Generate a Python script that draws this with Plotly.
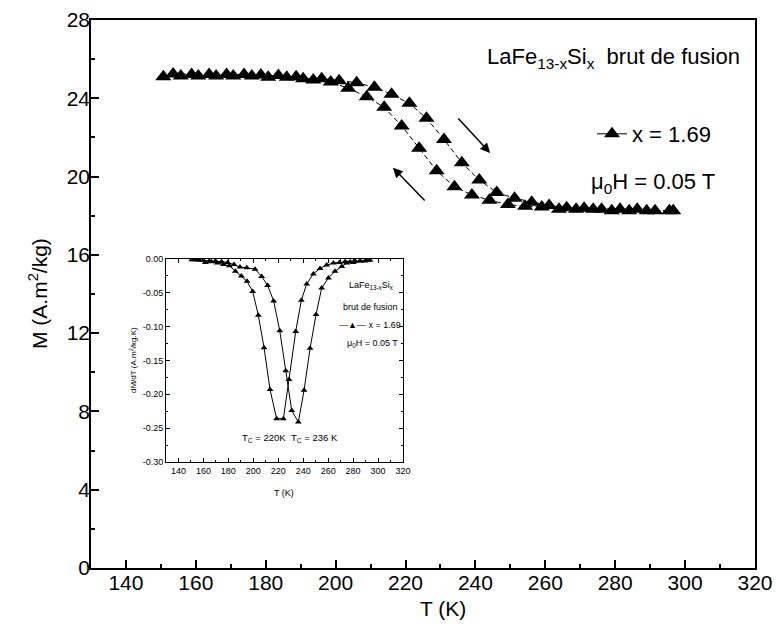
import plotly.graph_objects as go

# ---------------- main plot data (M vs T) ----------------
T_heat = [150.7, 155.7, 160.7, 165.8, 170.7, 176.0, 180.7, 186.0, 190.7, 196.0,
          201.0, 206.0, 211.1, 216.0, 221.1, 226.0, 231.0, 236.1, 241.1, 246.1,
          251.2, 256.1, 261.1, 266.1, 271.1, 276.1, 281.4, 286.3, 291.4, 296.6]
M_heat = [25.10, 25.14, 25.14, 25.14, 25.14, 25.14, 25.07, 25.07, 25.00, 25.00,
          24.90, 24.80, 24.56, 24.20, 23.74, 22.98, 21.90, 20.71, 19.83, 19.19,
          18.89, 18.69, 18.52, 18.41, 18.38, 18.33, 18.33, 18.33, 18.26, 18.26]

T_cool = [153.5, 158.8, 163.8, 168.8, 173.8, 178.6, 183.6, 188.7, 193.6, 198.6,
          203.6, 208.9, 213.9, 218.9, 223.9, 228.9, 234.0, 239.0, 244.0, 249.3,
          254.2, 259.0, 263.9, 268.8, 273.7, 279.0, 284.0, 289.0, 295.5]
M_cool = [25.24, 25.22, 25.22, 25.22, 25.22, 25.19, 25.17, 25.10, 24.94, 24.83,
          24.51, 24.08, 23.54, 22.59, 21.45, 20.30, 19.48, 19.06, 18.79, 18.57,
          18.48, 18.45, 18.33, 18.33, 18.33, 18.26, 18.26, 18.26, 18.26]

x_ticks = [140, 160, 180, 200, 220, 240, 260, 280, 300, 320]
y_ticks = [0, 4, 8, 12, 16, 20, 24, 28]

# ---------------- inset data (dM/dT vs T) ----------------
Ti_cool = [151.9, 156.7, 161.5, 166.4, 171.2, 176.0, 180.8, 185.6, 190.4, 195.0,
           199.5, 204.0, 208.6, 213.4, 218.7, 224.1, 228.6, 234.0, 238.5, 242.8,
           248.1, 253.5, 258.8, 264.2, 269.0, 273.5, 277.6, 281.6, 285.6, 291.0]
dM_cool = [-0.001, -0.002, -0.005, -0.004, -0.006, -0.008, -0.010, -0.018, -0.025, -0.033,
           -0.048, -0.083, -0.131, -0.193, -0.236, -0.236, -0.178, -0.107, -0.061, -0.037,
           -0.022, -0.014, -0.009, -0.006, -0.005, -0.004, -0.004, -0.003, -0.003, -0.002]

Ti_heat = [150.6, 155.1, 159.9, 164.7, 169.6, 174.6, 179.5, 184.5, 189.3, 194.7,
           201.4, 206.7, 211.5, 216.3, 221.2, 226.0, 230.8, 236.1, 240.7, 245.5,
           250.3, 254.8, 260.2, 265.5, 270.9, 274.9, 280.2, 285.6, 289.6, 293.6]
dM_heat = [-0.001, -0.001, -0.002, -0.003, -0.003, -0.004, -0.005, -0.008, -0.012, -0.013,
           -0.015, -0.026, -0.039, -0.062, -0.106, -0.165, -0.224, -0.241, -0.194, -0.132,
           -0.082, -0.043, -0.028, -0.018, -0.011, -0.006, -0.005, -0.003, -0.003, -0.002]

xi_ticks = [140, 160, 180, 200, 220, 240, 260, 280, 300, 320]
yi_ticks = [0.0, -0.05, -0.10, -0.15, -0.20, -0.25, -0.30]
yi_text = ["0.00", "-0.05", "-0.10", "-0.15", "-0.20", "-0.25", "-0.30"]

FONT = "Liberation Sans, Arial, Helvetica, sans-serif"

# geometry (pixels in the photographed page; body margin removed by post_script)
W, H = 776, 624
L, R, TOP, BOT = 91, 755, 20, 568
PW, PH = R - L, BOT - TOP


def px(x):
    return (x - L) / PW


def py(y):
    return (BOT - y) / PH


fig = go.Figure()

main_line = dict(color="black", width=1, dash="5px,3px")
main_marker = dict(symbol="triangle-up", size=14, color="black")

fig.add_trace(go.Scatter(x=T_cool, y=M_cool, mode="lines+markers", line=main_line,
                         marker=main_marker, showlegend=False, xaxis="x", yaxis="y"))
fig.add_trace(go.Scatter(x=T_heat, y=M_heat, mode="lines+markers", line=main_line,
                         marker=main_marker, showlegend=False, xaxis="x", yaxis="y"))
# legend entry only
fig.add_trace(go.Scatter(x=[None], y=[None], mode="lines+markers",
                         line=dict(color="black", width=1),
                         marker=main_marker, name="x = 1.69", showlegend=True))

inset_line = dict(color="black", width=1)
inset_marker = dict(symbol="triangle-up", size=6, color="black")
fig.add_trace(go.Scatter(x=Ti_cool, y=dM_cool, mode="lines+markers", line=inset_line,
                         marker=inset_marker, showlegend=False, xaxis="x2", yaxis="y2"))
fig.add_trace(go.Scatter(x=Ti_heat, y=dM_heat, mode="lines+markers", line=inset_line,
                         marker=inset_marker, showlegend=False, xaxis="x2", yaxis="y2"))

axis_common = dict(showgrid=False, zeroline=False, showline=True, linecolor="black",
                   linewidth=1.5, ticks="inside", tickcolor="black", tickwidth=1.5,
                   mirror=True, automargin=False,
                   tickfont=dict(family=FONT, size=21, color="black"))

fig.update_layout(
    width=W, height=H,
    margin=dict(l=L, r=W - R, t=TOP, b=H - BOT, autoexpand=False),
    paper_bgcolor="white", plot_bgcolor="white",
    font=dict(family=FONT, color="black"),
    xaxis=dict(range=[130, 320], tickvals=x_ticks, ticklen=8,
               minor=dict(dtick=10, tick0=130, ticks="inside", ticklen=4, tickcolor="black"),
               ticklabelstandoff=-5, **axis_common),
    yaxis=dict(range=[0, 28], tickvals=y_ticks, ticklen=8,
               minor=dict(dtick=2, tick0=0, ticks="inside", ticklen=4, tickcolor="black"),
               ticklabelstandoff=-5, **axis_common),
    xaxis2=dict(domain=[px(166), px(403)], anchor="y2", range=[130, 320], tickvals=xi_ticks,
                showgrid=False, zeroline=False, showline=True, linecolor="black", linewidth=1,
                ticks="inside", ticklen=4, tickcolor="black", tickwidth=1, mirror="ticks",
                automargin=False,
                minor=dict(dtick=10, tick0=130, ticks="inside", ticklen=2, tickcolor="black"),
                tickfont=dict(family=FONT, size=9, color="black")),
    yaxis2=dict(domain=[py(462), py(259)], anchor="x2", range=[-0.30, 0.0],
                tickvals=yi_ticks, ticktext=yi_text,
                showgrid=False, zeroline=False, showline=True, linecolor="black", linewidth=1,
                ticks="inside", ticklen=4, tickcolor="black", tickwidth=1, mirror="ticks",
                automargin=False,
                minor=dict(dtick=0.025, tick0=0, ticks="inside", ticklen=2, tickcolor="black"),
                tickfont=dict(family=FONT, size=9, color="black")),
    legend=dict(x=px(592), y=py(134), xanchor="left", yanchor="middle",
                bgcolor="rgba(0,0,0,0)", font=dict(family=FONT, size=22, color="black"),
                itemwidth=30),
)


def note(text, x, y, size, xanchor="center", angle=0):
    return dict(text=text, x=px(x), y=py(y), xref="paper", yref="paper",
                xanchor=xanchor, yanchor="middle", showarrow=False, textangle=angle,
                font=dict(size=size, family=FONT, color="black"))


ann = []
# main axis titles
ann.append(note("T (K)", 443, 608, 21))
ann.append(note("M (A.m<sup>2</sup>/kg)", 38, 294, 21, angle=-90))
# main legend texts
ann.append(note("LaFe<sub>13-x</sub>Si<sub>x</sub>  brut de fusion", 742, 58, 22, xanchor="right"))
ann.append(note("\u03bc<sub>0</sub>H = 0.05 T", 717, 183, 22, xanchor="right"))
# arrows
ann.append(dict(x=244.2, y=21.21, ax=234.7, ay=23.04, xref="x", yref="y", axref="x", ayref="y",
                text="", showarrow=True, arrowhead=2, arrowsize=1.3, arrowwidth=1.5,
                arrowcolor="black"))
ann.append(dict(x=216.4, y=20.45, ax=225.9, ay=18.70, xref="x", yref="y", axref="x", ayref="y",
                text="", showarrow=True, arrowhead=2, arrowsize=1.3, arrowwidth=1.5,
                arrowcolor="black"))
# inset texts
ann.append(note("LaFe<sub>13-x</sub>Si<sub>x</sub>", 371, 285, 9))
ann.append(note("brut de fusion", 370, 307, 9))
ann.append(note("\u2014\u25b2\u2014 x = 1.69", 370, 325, 9))
ann.append(note("\u03bc<sub>0</sub>H = 0.05 T", 372, 343, 9))
ann.append(note("T<sub>C</sub> = 220K", 240, 438, 9.5, xanchor="left"))
ann.append(note("T<sub>C</sub> = 236 K", 289, 438, 9.5, xanchor="left"))
ann.append(note("dM/dT (A.m<sup>2</sup>/kg.K)", 133, 360, 8, angle=-90))
ann.append(note("T (K)", 284, 493, 9))

fig.update_layout(annotations=ann)

fig.write_html("out.html", config={"displayModeBar": False},
               post_script="document.body.style.margin='0px';document.body.style.overflow='hidden';")
